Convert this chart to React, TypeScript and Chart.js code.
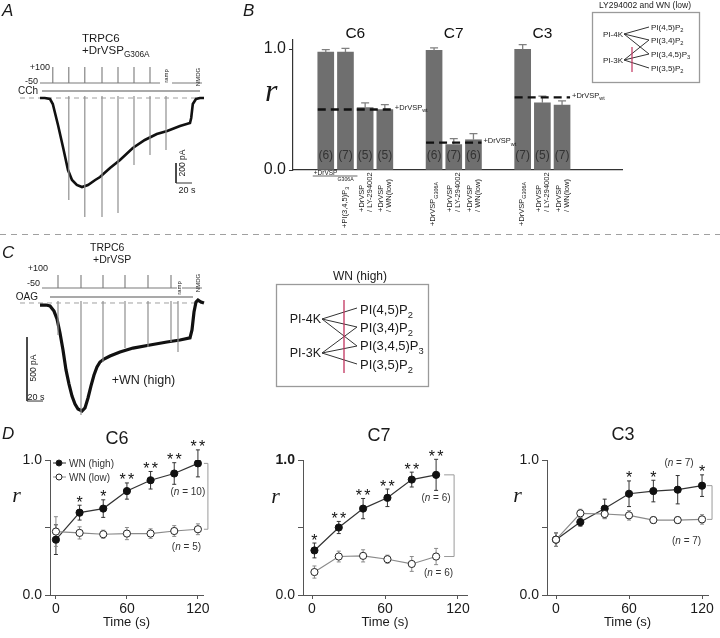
import React, { useEffect, useRef } from 'react';
import { Chart, registerables } from 'chart.js';

Chart.register(...registerables);

const SANS = "'Liberation Sans', Arial, Helvetica, sans-serif";
const SERIF = "'Liberation Serif', 'Times New Roman', serif";
Chart.defaults.font.family = SANS;
Chart.defaults.color = '#1a1a1a';

/* ---------------- Panel A : TRPC6 + DrVSP(G306A), CCh ---------------- */
const traceATime = [0, 6, 12.5, 16, 22.5, 29, 35, 40, 46, 52.5, 60, 69, 75, 87.5, 100, 116, 131, 146, 159, 175, 187.5, 189, 191, 195, 200, 205];
const traceACurrent = [0, 0, -10, -60, -270, -500, -720, -820, -870, -890, -870, -820, -790, -700, -620, -500, -420, -360, -330, -280, -250, -200, -60, -10, 0, 0];
const spikeATime = [36, 56, 77.5, 97.5, 117.5, 137.5, 157.5];
const spikeAMin = [-1020, -1190, -1190, -1150, -670, -570, -520];
const pulseATime = [16, 36, 56, 77.5, 97.5, 117.5, 137.5];
const protocolASpans = [[0, 150], [165, 202.5]];
const cchSpan = [2.5, 200];

/* ---------------- Panel C : TRPC6 + DrVSP, OAG, +WN (high) ---------------- */
const traceCTime = [0, 7.5, 12.5, 17.5, 21.25, 25, 28.75, 32.5, 36.25, 40, 43.75, 47.5, 52.5, 56.25, 60, 63.75, 67.5, 71.25, 75, 80, 87.5, 100, 116.25, 137.5, 158.75, 175, 187.5, 190, 192.5, 195, 197.5, 201.25, 205];
const traceCCurrent = [-16, -16, -23, -63, -125, -234, -367, -523, -633, -727, -789, -828, -844, -820, -742, -648, -563, -500, -461, -438, -414, -383, -352, -328, -305, -289, -273, -211, -70, 8, 23, 8, 0];
const spikeCTime = [22.5, 51.25, 78.75, 106.25, 135, 163.75, 172.5];
const spikeCMin = [-250, -875, -461, -352, -344, -305, -383];
const pulseCTime = [22.5, 51.25, 78.75, 106.25, 135, 163.75];
const protocolCSpans = [[2.5, 171.25], [177.5, 202.5]];
const oagSpan = [12.5, 191.25];

/* ---------------- Panel B : normalized r ---------------- */
const bGroups = ['C6', 'C7', 'C3'];
const bValues = [[0.975, 0.975, 0.515, 0.5], [0.99, 0.21, 0.25], [0.997, 0.556, 0.537]];
const bErrors = [[0.02, 0.03, 0.04, 0.04], [0.02, 0.05, 0.05], [0.04, 0.055, 0.035]];
const bN = [[6, 7, 5, 5], [6, 7, 6], [7, 5, 7]];
const bWildType = [0.5, 0.226, 0.6];
const bBarLabels = [
  [[], ['+PI(3,4,5)P_{3}'], ['+DrVSP', '/ LY-294002'], ['+DrVSP', '/ WN(low)']],
  [['+DrVSP_{G306A}'], ['+DrVSP', '/ LY-294002'], ['+DrVSP', '/ WN(low)']],
  [['+DrVSP_{G306A}'], ['+DrVSP', '/ LY-294002'], ['+DrVSP', '/ WN(low)']],
];
const bTicks = [0, 1];

/* ---------------- Panel D : time courses ---------------- */
const timeTicks = [0, 60, 120];
const rTicks = [0, 0.5, 1];

const c6Time = [0, 20, 40, 60, 80, 100, 120];
const c6High = [0.41, 0.61, 0.64, 0.77, 0.85, 0.9, 0.975];
const c6HighErr = [0.11, 0.055, 0.065, 0.06, 0.065, 0.08, 0.1];
const c6Low = [0.47, 0.46, 0.45, 0.455, 0.455, 0.474, 0.487];
const c6LowErr = [0.11, 0.045, 0.03, 0.045, 0.035, 0.04, 0.04];
const c6Stars = ['', '*', '*', '**', '**', '**', '**'];

const c7Time = [2, 22, 42, 62, 82, 102];
const c7High = [0.33, 0.5, 0.64, 0.72, 0.855, 0.89];
const c7HighErr = [0.055, 0.045, 0.075, 0.065, 0.055, 0.115];
const c7Low = [0.17, 0.285, 0.29, 0.265, 0.23, 0.285];
const c7LowErr = [0.045, 0.04, 0.045, 0.03, 0.055, 0.06];
const c7Stars = ['*', '**', '**', '**', '**', '**'];

const c3Time = [0, 20, 40, 60, 80, 100, 120];
const c3High = [0.41, 0.54, 0.64, 0.75, 0.77, 0.78, 0.81];
const c3HighErr = [0.05, 0.03, 0.07, 0.095, 0.08, 0.105, 0.08];
const c3Low = [0.41, 0.605, 0.6, 0.59, 0.555, 0.555, 0.56];
const c3LowErr = [0.05, 0.03, 0.035, 0.035, 0.025, 0.025, 0.035];
const c3Stars = ['', '', '', '*', '*', '', '*'];

/* ---------------- rich text helpers ---------------- */
type Seg = { t: string; sub: boolean; it: boolean };
function parseRich(s: string): Seg[] {
  const out: Seg[] = [];
  let buf = '';
  let it = false;
  let i = 0;
  const flush = () => {
    if (buf) { out.push({ t: buf, sub: false, it }); buf = ''; }
  };
  while (i < s.length) {
    const c = s[i];
    if (c === '_' && s[i + 1] === '{') {
      flush();
      const j = s.indexOf('}', i);
      out.push({ t: s.slice(i + 2, j), sub: true, it });
      i = j + 1;
    } else if (c === '~') {
      flush();
      it = !it;
      i++;
    } else {
      buf += c;
      i++;
    }
  }
  flush();
  return out;
}

function drawRich(ctx: any, s: string, x: number, y: number, size: number, align: string, color: string) {
  const segs = parseRich(s);
  const font = (g: Seg) => `${g.it ? 'italic ' : ''}${g.sub ? size * 0.72 : size}px ${SANS}`;
  const widths = segs.map((g) => { ctx.font = font(g); return ctx.measureText(g.t).width; });
  const total = widths.reduce((a, b) => a + b, 0);
  let cx = align === 'center' ? x - total / 2 : align === 'right' ? x - total : x;
  ctx.save();
  ctx.fillStyle = color;
  ctx.textAlign = 'left';
  ctx.textBaseline = 'alphabetic';
  segs.forEach((g, k) => {
    ctx.font = font(g);
    ctx.fillText(g.t, cx, y + (g.sub ? size * 0.32 : 0));
    cx += widths[k];
  });
  ctx.restore();
}

function Rich({ s }: { s: string }) {
  return (
    <>
      {parseRich(s).map((g, k) =>
        g.sub ? (
          <span key={k} style={{ fontSize: '0.72em', position: 'relative', top: '0.32em', fontStyle: g.it ? 'italic' : undefined }}>{g.t}</span>
        ) : (
          <span key={k} style={{ fontStyle: g.it ? 'italic' : undefined }}>{g.t}</span>
        )
      )}
    </>
  );
}

function Txt({ x, y, s, size, align = 'left', rot = false, italic = false, serif = false, color = '#1a1a1a' }: any) {
  const tx = align === 'center' ? '-50%' : align === 'right' ? '-100%' : '0';
  return (
    <div
      style={{
        position: 'absolute', left: x, top: y, fontSize: size, lineHeight: 1, whiteSpace: 'nowrap',
        fontFamily: serif ? SERIF : SANS, fontStyle: italic ? 'italic' : 'normal', color,
        transform: rot ? 'translate(-50%,-50%) rotate(-90deg)' : `translate(${tx},-50%)`,
      }}
    >
      <Rich s={s} />
    </div>
  );
}

function SvgRich({ x, y, s, size, anchor = 'start' }: any) {
  const segs = parseRich(s);
  return (
    <text x={x} y={y} fontSize={size} textAnchor={anchor} fontFamily={SANS} fill="#1a1a1a">
      {segs.map((g, k) =>
        g.sub ? (
          <tspan key={k} fontSize={size * 0.72} dy={size * 0.32}>{g.t}</tspan>
        ) : (
          <tspan key={k} dy={k > 0 && segs[k - 1].sub ? -size * 0.32 : 0}>{g.t}</tspan>
        )
      )}
    </text>
  );
}

/* ---------------- current-trace charts (A, C) ---------------- */
function traceConfig(o: any) {
  const spikes = o.spikeT.flatMap((t: number, i: number) => [
    { x: t, y: o.spikeTop }, { x: t, y: o.spikeMin[i] }, { x: t, y: null },
  ]);
  const proto: any[] = [];
  o.spans.forEach(([a, b]: number[]) => {
    proto.push({ x: a, y: o.vHold });
    o.pulses.filter((t: number) => t >= a && t <= b).forEach((t: number) => {
      proto.push({ x: t, y: o.vHold }, { x: t, y: o.vStep }, { x: t, y: o.vHold });
    });
    proto.push({ x: b, y: o.vHold }, { x: b, y: null });
  });
  const sb = o.scaleBar;
  const bar = [
    { x: sb.t, y: sb.i }, { x: sb.t, y: sb.i - sb.pA }, { x: sb.t + sb.s, y: sb.i - sb.pA },
  ];
  const line = (data: any[], color: string, width: number, extra: any = {}) => ({
    data, borderColor: color, borderWidth: width, pointRadius: 0, tension: 0, fill: false, ...extra,
  });
  return {
    type: 'line',
    data: {
      datasets: [
        line(spikes, '#8f8f8f', 1.2),
        line(o.time.map((t: number, i: number) => ({ x: t, y: o.current[i] })), '#111', o.traceWidth),
        line([{ x: o.x[0], y: 0 }, { x: o.zeroEnd, y: 0 }], '#a0a0a0', 1, { borderDash: [5, 4] }),
        line(proto, '#7a7a7a', 1.1, { yAxisID: 'v' }),
        line([{ x: o.app[0], y: o.appLevel }, { x: o.app[1], y: o.appLevel }], '#8d8d8d', 1.5, { yAxisID: 'v' }),
        line(bar, '#333', 1),
      ],
    },
    options: {
      responsive: false, animation: false, events: [], devicePixelRatio: 1,
      layout: { padding: 0 },
      plugins: { legend: { display: false }, tooltip: { enabled: false } },
      scales: {
        x: { type: 'linear', display: false, min: o.x[0], max: o.x[1] },
        y: { type: 'linear', display: false, min: o.y[0], max: o.y[1] },
        v: { type: 'linear', display: false, position: 'right', min: o.v[0], max: o.v[1] },
      },
    },
  };
}

const configA = () => traceConfig({
  time: traceATime, current: traceACurrent, spikeT: spikeATime, spikeMin: spikeAMin, spikeTop: 20,
  pulses: pulseATime, spans: protocolASpans, vHold: -50, vStep: 100, app: cchSpan, appLevel: -125,
  x: [-25, 225], y: [-1320, 430], v: [-1428.1, 212.5], zeroEnd: 204,
  scaleBar: { t: 170, i: -650, pA: 200, s: 20 }, traceWidth: 2.6,
});

const configC = () => traceConfig({
  time: traceCTime, current: traceCCurrent, spikeT: spikeCTime, spikeMin: spikeCMin, spikeTop: 16,
  pulses: pulseCTime, spans: protocolCSpans, vHold: -50, vStep: 100, app: oagSpan, appLevel: -153.8,
  x: [-25, 225], y: [-929.7, 320.3], v: [-1596, 250], zeroEnd: 204,
  scaleBar: { t: -16.25, i: -266, pA: 500, s: 20 }, traceWidth: 3.2,
});

/* ---------------- bar chart (B) ---------------- */
function configB() {
  const slots: number[] = [];
  const groupOf: number[] = [];
  let pos = 0;
  bValues.forEach((vals, g) => {
    vals.forEach(() => { slots.push(pos); groupOf.push(g); pos += 1; });
    pos += 1.5;
  });
  const flatV = bValues.flat();
  const flatE = bErrors.flat();
  const flatN = bN.flat();
  const flatL = bBarLabels.flat();

  const plugin = {
    id: 'bExtras',
    afterDatasetsDraw(chart: any) {
      const ctx = chart.ctx;
      const ys = chart.scales.y;
      const meta = chart.getDatasetMeta(0);
      const bottom = ys.getPixelForValue(0);
      const top = chart.chartArea.top;
      // error bars
      ctx.save();
      ctx.strokeStyle = '#808080';
      ctx.lineWidth = 1.3;
      meta.data.forEach((b: any, i: number) => {
        const y0 = ys.getPixelForValue(flatV[i]);
        const y1 = ys.getPixelForValue(flatV[i] + flatE[i]);
        ctx.beginPath();
        ctx.moveTo(b.x, y0); ctx.lineTo(b.x, y1);
        ctx.moveTo(b.x - 4, y1); ctx.lineTo(b.x + 4, y1);
        ctx.stroke();
      });
      ctx.restore();
      // n inside bars
      meta.data.forEach((b: any, i: number) => {
        drawRich(ctx, `(${flatN[i]})`, b.x, bottom - 15 + 4.3, 12, 'center', '#333');
      });
      // groups: titles + wild-type dashed reference
      let idx = 0;
      bGroups.forEach((name, g) => {
        const first = meta.data[idx];
        const last = meta.data[idx + bValues[g].length - 1];
        idx += bValues[g].length;
        const w = first.width;
        const xl = first.x - w / 2;
        const xr = last.x + w / 2;
        drawRich(ctx, name, (first.x + last.x) / 2, top - 7 + 5.4, 15.5, 'center', '#111');
        const yw = ys.getPixelForValue(bWildType[g]);
        ctx.save();
        ctx.strokeStyle = '#111';
        ctx.lineWidth = 2.3;
        ctx.setLineDash([8, 5]);
        ctx.beginPath();
        ctx.moveTo(xl, yw); ctx.lineTo(xr, yw);
        ctx.stroke();
        ctx.restore();
        drawRich(ctx, '+DrVSP_{wt}', xr + 2, yw + 0.5, 7.5, 'left', '#1a1a1a');
      });
      // shared label under first two C6 bars
      const b0 = meta.data[0];
      const b1 = meta.data[1];
      drawRich(ctx, '+DrVSP', b0.x - 12, bottom + 4.8, 6.5, 'left', '#1a1a1a');
      ctx.save();
      ctx.strokeStyle = '#555';
      ctx.lineWidth = 0.9;
      ctx.beginPath();
      ctx.moveTo(b0.x - 13, bottom + 6); ctx.lineTo(b1.x + 12, bottom + 6);
      ctx.stroke();
      ctx.restore();
      drawRich(ctx, 'G306A', b1.x - 8, bottom + 10.5, 5.2, 'left', '#1a1a1a');
      // rotated per-bar labels
      meta.data.forEach((b: any, i: number) => {
        const lines = flatL[i];
        if (!lines.length) return;
        const start = bottom + (lines.length === 2 ? 42 : lines[0].startsWith('+PI') ? 58 : 56);
        ctx.save();
        ctx.translate(b.x, start);
        ctx.rotate(-Math.PI / 2);
        lines.forEach((ln: string, k: number) => {
          const off = lines.length === 2 ? (k - 0.5) * 8 : -1.5;
          drawRich(ctx, ln, 0, off + 2.6, 7.5, 'left', '#1a1a1a');
        });
        ctx.restore();
      });
    },
  };

  return {
    type: 'bar',
    data: {
      datasets: [{
        data: slots.map((s, i) => ({ x: s, y: flatV[i] })),
        backgroundColor: '#6f6f6f', borderWidth: 0, barThickness: 16,
      }],
    },
    options: {
      responsive: false, animation: false, events: [], devicePixelRatio: 1,
      layout: { padding: { left: 0, right: 98, top: 20, bottom: 0 } },
      plugins: { legend: { display: false }, tooltip: { enabled: false } },
      scales: {
        x: {
          type: 'linear', min: -0.62, max: 14,
          afterFit: (s: any) => { s.height = 65; },
          ticks: { display: false },
          grid: { display: false },
          border: { color: '#333', width: 1.2 },
        },
        y: {
          min: 0, max: 1.0744,
          afterBuildTicks: (s: any) => { s.ticks = bTicks.map((v) => ({ value: v })); },
          afterFit: (s: any) => { s.width = 53; },
          ticks: { callback: (v: number) => v.toFixed(1), font: { size: 16 }, color: '#1a1a1a', padding: 3 },
          grid: { drawOnChartArea: false, tickLength: 4, color: '#333' },
          border: { color: '#333', width: 1.2 },
        },
      },
    },
    plugins: [plugin],
  };
}

/* ---------------- time-course charts (D) ---------------- */
function dConfig(p: any) {
  const plugin = {
    id: 'dExtras',
    beforeDatasetsDraw(chart: any) {
      const ctx = chart.ctx;
      const ys = chart.scales.y;
      const series = [
        { meta: chart.getDatasetMeta(0), v: p.high, e: p.highErr, c: '#333' },
        { meta: chart.getDatasetMeta(1), v: p.low, e: p.lowErr, c: '#8a8a8a' },
      ];
      series.forEach((s) => {
        ctx.save();
        ctx.strokeStyle = s.c;
        ctx.lineWidth = 1;
        s.meta.data.forEach((pt: any, i: number) => {
          const y1 = ys.getPixelForValue(s.v[i] + s.e[i]);
          const y2 = ys.getPixelForValue(s.v[i] - s.e[i]);
          ctx.beginPath();
          ctx.moveTo(pt.x, y1); ctx.lineTo(pt.x, y2);
          ctx.moveTo(pt.x - 2, y1); ctx.lineTo(pt.x + 2, y1);
          ctx.moveTo(pt.x - 2, y2); ctx.lineTo(pt.x + 2, y2);
          ctx.stroke();
        });
        ctx.restore();
      });
    },
    afterDatasetsDraw(chart: any) {
      const ctx = chart.ctx;
      const xs = chart.scales.x;
      const ys = chart.scales.y;
      const area = chart.chartArea;
      // significance stars
      ctx.save();
      ctx.fillStyle = '#111';
      ctx.font = `16px ${SANS}`;
      ctx.textAlign = 'center';
      ctx.textBaseline = 'alphabetic';
      p.stars.forEach((st: string, i: number) => {
        if (!st) return;
        const x = xs.getPixelForValue(p.time[i]);
        const y = ys.getPixelForValue(p.high[i] + p.highErr[i]) + 2.5;
        const n = st.length;
        for (let k = 0; k < n; k++) ctx.fillText('*', x + (k - (n - 1) / 2) * 8.5, y);
      });
      ctx.restore();
      // bracket
      const last = p.time.length - 1;
      const lx = xs.getPixelForValue(p.time[last]);
      const yh = ys.getPixelForValue(p.high[last]);
      const yl = ys.getPixelForValue(p.low[last]);
      ctx.save();
      ctx.strokeStyle = '#9a9a9a';
      ctx.lineWidth = 1;
      ctx.beginPath();
      ctx.moveTo(lx + p.br[0], yh); ctx.lineTo(lx + p.br[1], yh); ctx.lineTo(lx + p.br[1], yl); ctx.lineTo(lx + p.br[0], yl);
      ctx.stroke();
      ctx.restore();
      // n labels
      p.nLabels.forEach((nl: any) => {
        drawRich(ctx, nl.text, xs.getPixelForValue(nl.t), ys.getPixelForValue(nl.r) + 3.5, 10, 'center', '#333');
      });
      // legend
      if (p.legend) {
        const x0 = area.left + 3;
        const items = [
          { y: area.top + 3, fill: '#111', line: '#333', text: 'WN (high)' },
          { y: area.top + 17, fill: '#fff', line: '#8a8a8a', text: 'WN (low)' },
        ];
        items.forEach((it) => {
          ctx.save();
          ctx.strokeStyle = it.line;
          ctx.lineWidth = 1;
          ctx.beginPath();
          ctx.moveTo(x0, it.y); ctx.lineTo(x0 + 13, it.y);
          ctx.stroke();
          ctx.beginPath();
          ctx.arc(x0 + 6, it.y, 3, 0, Math.PI * 2);
          ctx.fillStyle = it.fill;
          ctx.fill();
          ctx.strokeStyle = '#222';
          ctx.stroke();
          ctx.restore();
          drawRich(ctx, it.text, x0 + 16, it.y + 3.6, 10, 'left', '#333');
        });
      }
    },
  };

  return {
    type: 'line',
    data: {
      datasets: [
        {
          label: 'WN (high)', order: 1,
          data: p.time.map((t: number, i: number) => ({ x: t, y: p.high[i] })),
          borderColor: '#333', borderWidth: 1.2, pointRadius: 3.6,
          pointBackgroundColor: '#111', pointBorderColor: '#111', pointBorderWidth: 1, tension: 0, fill: false,
        },
        {
          label: 'WN (low)', order: 0,
          data: p.time.map((t: number, i: number) => ({ x: t, y: p.low[i] })),
          borderColor: '#8a8a8a', borderWidth: 1.2, pointRadius: 3.6,
          pointBackgroundColor: '#fff', pointBorderColor: '#222', pointBorderWidth: 1, tension: 0, fill: false,
        },
      ],
    },
    options: {
      responsive: false, animation: false, events: [], devicePixelRatio: 1,
      layout: { padding: { left: 0, right: p.padRight, top: 40, bottom: 0 } },
      plugins: { legend: { display: false }, tooltip: { enabled: false } },
      scales: {
        x: {
          type: 'linear', min: p.xr[0], max: p.xr[1],
          afterBuildTicks: (s: any) => { s.ticks = timeTicks.map((v) => ({ value: v })); },
          afterFit: (s: any) => { s.height = 43; },
          grid: { drawOnChartArea: false, tickLength: 4, color: '#555' },
          border: { color: '#555' },
          ticks: { font: { size: 14 }, color: '#1a1a1a', padding: 2, maxRotation: 0 },
          title: { display: true, text: 'Time (s)', font: { size: 13 }, color: '#1a1a1a', padding: { top: 0, bottom: 8 } },
        },
        y: {
          min: 0, max: 1,
          afterBuildTicks: (s: any) => { s.ticks = rTicks.map((v) => ({ value: v })); },
          afterFit: (s: any) => { s.width = p.yWidth; },
          grid: { drawOnChartArea: false, tickLength: 5, color: '#555' },
          border: { color: '#555' },
          ticks: {
            callback: (v: number) => (v === 0.5 ? '' : v.toFixed(1)),
            font: (c: any) => ({ size: 14, weight: p.boldTop && c.tick && c.tick.value === 1 ? 'bold' : 'normal' }),
            color: '#1a1a1a', padding: 3,
          },
        },
      },
    },
    plugins: [plugin],
  };
}

const configD6 = () => dConfig({
  time: c6Time, high: c6High, highErr: c6HighErr, low: c6Low, lowErr: c6LowErr, stars: c6Stars,
  xr: [-5, 124.3], yWidth: 50, padRight: 37, br: [6, 10], legend: true, boldTop: false,
  nLabels: [{ text: '(~n~ = 10)', t: 111.5, r: 0.763 }, { text: '(~n~ = 5)', t: 110.3, r: 0.356 }],
});
const configD7 = () => dConfig({
  time: c7Time, high: c7High, highErr: c7HighErr, low: c7Low, lowErr: c7LowErr, stars: c7Stars,
  xr: [-7.4, 127.4], yWidth: 63, padRight: 13, br: [8, 18], legend: false, boldTop: true,
  nLabels: [{ text: '(~n~ = 6)', t: 101.9, r: 0.719 }, { text: '(~n~ = 6)', t: 104, r: 0.163 }],
});
const configD3 = () => dConfig({
  time: c3Time, high: c3High, highErr: c3HighErr, low: c3Low, lowErr: c3LowErr, stars: c3Stars,
  xr: [-7.4, 124.9], yWidth: 67, padRight: 12, br: [5, 10], legend: false, boldTop: false,
  nLabels: [{ text: '(~n~ = 7)', t: 101.1, r: 0.985 }, { text: '(~n~ = 7)', t: 107.3, r: 0.407 }],
});

/* ---------------- canvas wrapper ---------------- */
function ChartCanvas({ left, top, width, height, make }: any) {
  const ref = useRef<HTMLCanvasElement>(null);
  useEffect(() => {
    const chart = new Chart(ref.current as any, make());
    return () => chart.destroy();
  }, []);
  return (
    <canvas ref={ref} width={width} height={height}
      style={{ position: 'absolute', left, top, width, height, display: 'block' }} />
  );
}

/* ---------------- schematic insets + separator ---------------- */
function Overlay() {
  const L = (x1: number, y1: number, x2: number, y2: number, c = '#333', w = 1) => (
    <line x1={x1} y1={y1} x2={x2} y2={y2} stroke={c} strokeWidth={w} />
  );
  return (
    <svg width={720} height={638} style={{ position: 'absolute', left: 0, top: 0 }}>
      {/* separator between B and C */}
      <line x1={0} y1={234.5} x2={720} y2={234.5} stroke="#a0a0a0" strokeWidth={1} strokeDasharray="6 5" />

      {/* inset in B: LY294002 and WN (low) */}
      <SvgRich x={645} y={8} s="LY294002 and WN (low)" size={8.5} anchor="middle" />
      <rect x={592.5} y={12.5} width={107} height={70} fill="none" stroke="#9a9a9a" strokeWidth={1.3} />
      <SvgRich x={623} y={36.8} s="PI-4K" size={8} anchor="end" />
      <SvgRich x={623} y={62.8} s="PI-3K" size={8} anchor="end" />
      {L(624, 34, 649, 27)}{L(624, 34, 649, 40)}{L(624, 34, 649, 54)}
      {L(624, 60, 649, 40)}{L(624, 60, 649, 54)}{L(624, 60, 649, 68)}
      {L(632, 47, 632, 72, '#c2345f', 1.2)}
      <SvgRich x={651} y={29.8} s="PI(4,5)P_{2}" size={8} />
      <SvgRich x={651} y={42.8} s="PI(3,4)P_{2}" size={8} />
      <SvgRich x={651} y={56.8} s="PI(3,4,5)P_{3}" size={8} />
      <SvgRich x={651} y={70.8} s="PI(3,5)P_{2}" size={8} />

      {/* inset in C: WN (high) */}
      <SvgRich x={360} y={280.2} s="WN (high)" size={12} anchor="middle" />
      <rect x={276.5} y={284.5} width={152} height={102} fill="none" stroke="#9a9a9a" strokeWidth={1.3} />
      <SvgRich x={321} y={323.4} s="PI-4K" size={12.5} anchor="end" />
      <SvgRich x={321} y={357.4} s="PI-3K" size={12.5} anchor="end" />
      {L(322, 319, 357, 308)}{L(322, 319, 357, 327)}{L(322, 319, 357, 346)}
      {L(322, 353, 357, 327)}{L(322, 353, 357, 346)}{L(322, 353, 357, 364)}
      {L(344, 300, 344, 373, '#c2345f', 1.3)}
      <SvgRich x={360} y={313.5} s="PI(4,5)P_{2}" size={13} />
      <SvgRich x={360} y={331.8} s="PI(3,4)P_{2}" size={13} />
      <SvgRich x={360} y={350.2} s="PI(3,4,5)P_{3}" size={13} />
      <SvgRich x={360} y={368.5} s="PI(3,5)P_{2}" size={13} />
    </svg>
  );
}

export default function App() {
  return (
    <div style={{ position: 'absolute', left: 0, top: 0, width: 720, height: 638, background: '#fff', overflow: 'hidden', fontFamily: SANS }}>
      <ChartCanvas left={20} top={55} width={200} height={175} make={configA} />
      <ChartCanvas left={20} top={262} width={200} height={160} make={configC} />
      <ChartCanvas left={240} top={20} width={480} height={215} make={configB} />
      <ChartCanvas left={0} top={420} width={240} height={218} make={configD6} />
      <ChartCanvas left={240} top={420} width={240} height={218} make={configD7} />
      <ChartCanvas left={480} top={420} width={240} height={218} make={configD3} />
      <Overlay />

      {/* panel letters */}
      <Txt x={2} y={10} s="A" size={17} italic />
      <Txt x={243} y={10} s="B" size={17} italic />
      <Txt x={2} y={252} s="C" size={17} italic />
      <Txt x={2} y={433} s="D" size={17} italic />

      {/* panel A annotations */}
      <Txt x={82} y={39} s="TRPC6" size={11.5} />
      <Txt x={82} y={51} s="+DrVSP_{G306A}" size={11.5} />
      <Txt x={50} y={66.5} s="+100" size={9} align="right" />
      <Txt x={38} y={81} s="-50" size={9} align="right" />
      <Txt x={38} y={90.5} s="CCh" size={10} align="right" />
      <Txt x={166} y={76} s="ramp" size={6} rot />
      <Txt x={198} y={77} s="NMDG" size={6} rot />
      <Txt x={181.5} y={163} s="200 pA" size={8.5} rot />
      <Txt x={187} y={190} s="20 s" size={9} align="center" />

      {/* panel B axis label */}
      <Txt x={265} y={89.5} s="r" size={32} italic serif />

      {/* panel C annotations */}
      <Txt x={90} y={247} s="TRPC6" size={10.5} />
      <Txt x={93} y={259} s="+DrVSP" size={10.5} />
      <Txt x={48} y={267.5} s="+100" size={9} align="right" />
      <Txt x={40} y={282.5} s="-50" size={9} align="right" />
      <Txt x={38} y={297} s="OAG" size={10} align="right" />
      <Txt x={178.5} y={288} s="ramp" size={6} rot />
      <Txt x={198} y={283} s="NMDG" size={6} rot />
      <Txt x={33} y={367.5} s="500 pA" size={8.5} rot />
      <Txt x={36} y={396.5} s="20 s" size={9} align="center" />
      <Txt x={143.5} y={380} s="+WN (high)" size={12.5} align="center" />

      {/* panel D titles and axis labels */}
      <Txt x={117} y={437.5} s="C6" size={18} align="center" />
      <Txt x={379} y={435} s="C7" size={18} align="center" />
      <Txt x={623} y={434} s="C3" size={18} align="center" />
      <Txt x={16.5} y={494.6} s="r" size={22} italic serif align="center" />
      <Txt x={275.5} y={495.6} s="r" size={22} italic serif align="center" />
      <Txt x={517.5} y={494.6} s="r" size={22} italic serif align="center" />
    </div>
  );
}
